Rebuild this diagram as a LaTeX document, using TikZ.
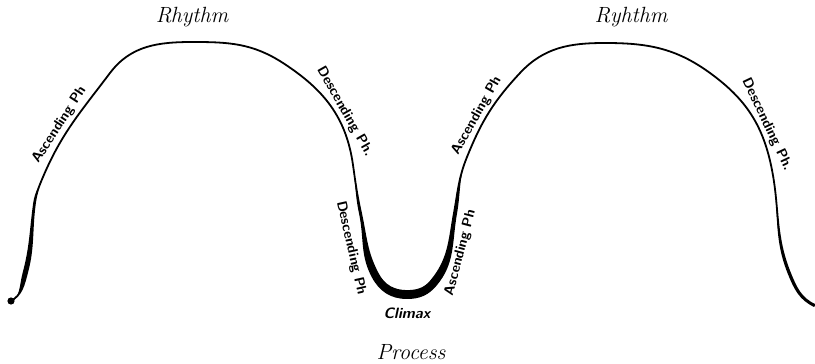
\documentclass[tikz,border=0pt]{standalone}

\newcommand{\phasefont}{\fontsize{7}{8}\selectfont\sffamily\bfseries}

\begin{document}
\begin{tikzpicture}[
  x=0.5pt, y=0.5pt,
  curve/.style={line width=0.9pt, line cap=round, line join=round},
  title/.style={font=\fontsize{11}{13}\selectfont\itshape},
  climax/.style={font=\fontsize{7.5}{9}\selectfont\sffamily\bfseries\itshape},
  phase/.style={font=\phasefont, inner sep=0pt, sloped}
]
  \useasboundingbox (0,0) rectangle (815,364);

  % ---- knots of the curve ----
  \coordinate (K0) at (11,63);
  \coordinate (K1) at (27,91);
  \coordinate (K2) at (35,161);
  \coordinate (K3) at (43,187);
  \coordinate (K4) at (110,291);
  \coordinate (K5) at (193,322);
  \coordinate (K6) at (283,301);
  \coordinate (K7) at (353,199);
  \coordinate (K8) at (361,151);
  \coordinate (K9) at (378,90);
  \coordinate (K10) at (407,73);
  \coordinate (K11) at (431,83);
  \coordinate (K12) at (454,151);
  \coordinate (K13) at (467,207);
  \coordinate (K14) at (520,291);
  \coordinate (K15) at (605,321);
  \coordinate (K16) at (710,291);
  \coordinate (K17) at (772,194);
  \coordinate (K18) at (790,91);
  \coordinate (K19) at (815,59);

  % ---- heavy strokes (left foot, climax, right foot) ----
  \fill (K0) to[out=30,in=255] (K1) to[out=75,in=262] (K2) to[out=82,in=247] (K3)
        to[out=247,in=82] ([xshift=-0.9pt]K2) to[out=262,in=75] ([xshift=-2.2pt]K1)
        to[out=255,in=30] ([shift={(-0.8pt,-1.4pt)}]K0) -- cycle;
  \fill (K0) circle (1.8pt);

  \fill (K7) to[out=-82,in=102] (K8) to[out=-78,in=118] (K9) to[out=-62,in=180] (K10)
        to[out=0,in=230] (K11) to[out=50,in=260] (K12) to[out=80,in=248] (K13)
        to[out=248,in=80] ([shift={(1.5pt,-0.3pt)}]K12)
        to[out=260,in=50] ([shift={(2.8pt,-2.3pt)}]K11)
        to[out=230,in=0] ([yshift=-4pt]K10)
        to[out=180,in=-62] ([shift={(-3.1pt,-1.6pt)}]K9)
        to[out=118,in=-78] ([shift={(-1pt,-0.2pt)}]K8)
        to[out=102,in=-82] (K7) -- cycle;

  \fill (K17) to[out=-79,in=112] (K18) to[out=-68,in=155] (K19)
        -- ([shift={(-0.4pt,-1pt)}]K19) to[out=155,in=-68] ([shift={(-1.1pt,-0.4pt)}]K18)
        to[out=112,in=-79] (K17) -- cycle;

  % ---- the curve ----
  \draw[curve] (K0) to[out=30,in=255] (K1) to[out=75,in=262] (K2)
        to[out=82,in=247] (K3) to[out=67,in=233] (K4) to[out=53,in=180] (K5)
        to[out=0,in=147] (K6) to[out=-33,in=98] (K7) to[out=-82,in=102] (K8)
        to[out=-78,in=118] (K9) to[out=-62,in=180] (K10) to[out=0,in=230] (K11)
        to[out=50,in=260] (K12) to[out=80,in=248] (K13) to[out=68,in=227] (K14)
        to[out=47,in=180] (K15) to[out=0,in=144] (K16) to[out=-36,in=101] (K17)
        to[out=-79,in=112] (K18) to[out=-68,in=155] (K19);

  % ---- phase labels beside the curve ----
  \path (K3) to[out=67,in=233]
        node[phase, pos=0.42, above=1.5pt] (ascA) {Ascending Ph} (K4);
  \path (K6) to[out=-33,in=98]
        node[phase, pos=0.6, above=1pt] (descA) {Descending Ph.} (K7);
  \path (K8) to[out=-78,in=118]
        node[phase, pos=0.5, below=5pt] (descB) {Descending Ph} (K9);
  \path (K11) to[out=50,in=260]
        node[phase, pos=0.5, below=3.5pt] (ascB) {Ascending Ph} (K12);
  \path (K13) to[out=68,in=227]
        node[phase, pos=0.4, above=1pt] (ascC) {Ascending Ph} (K14);
  \path (K16) to[out=-36,in=101]
        node[phase, pos=0.64, above=1pt] (descC) {Descending Ph.} (K17);

  % ---- titles ----
  \node[title] (rhythmA) at (192,347) {Rhythm};
  \node[title] (rhythmB) at (631,347) {Ryhthm};
  \node[climax] (climax) at (407,51) {Climax};
  \node[title] (process) at (411,12) {Process};
\end{tikzpicture}
\end{document}
